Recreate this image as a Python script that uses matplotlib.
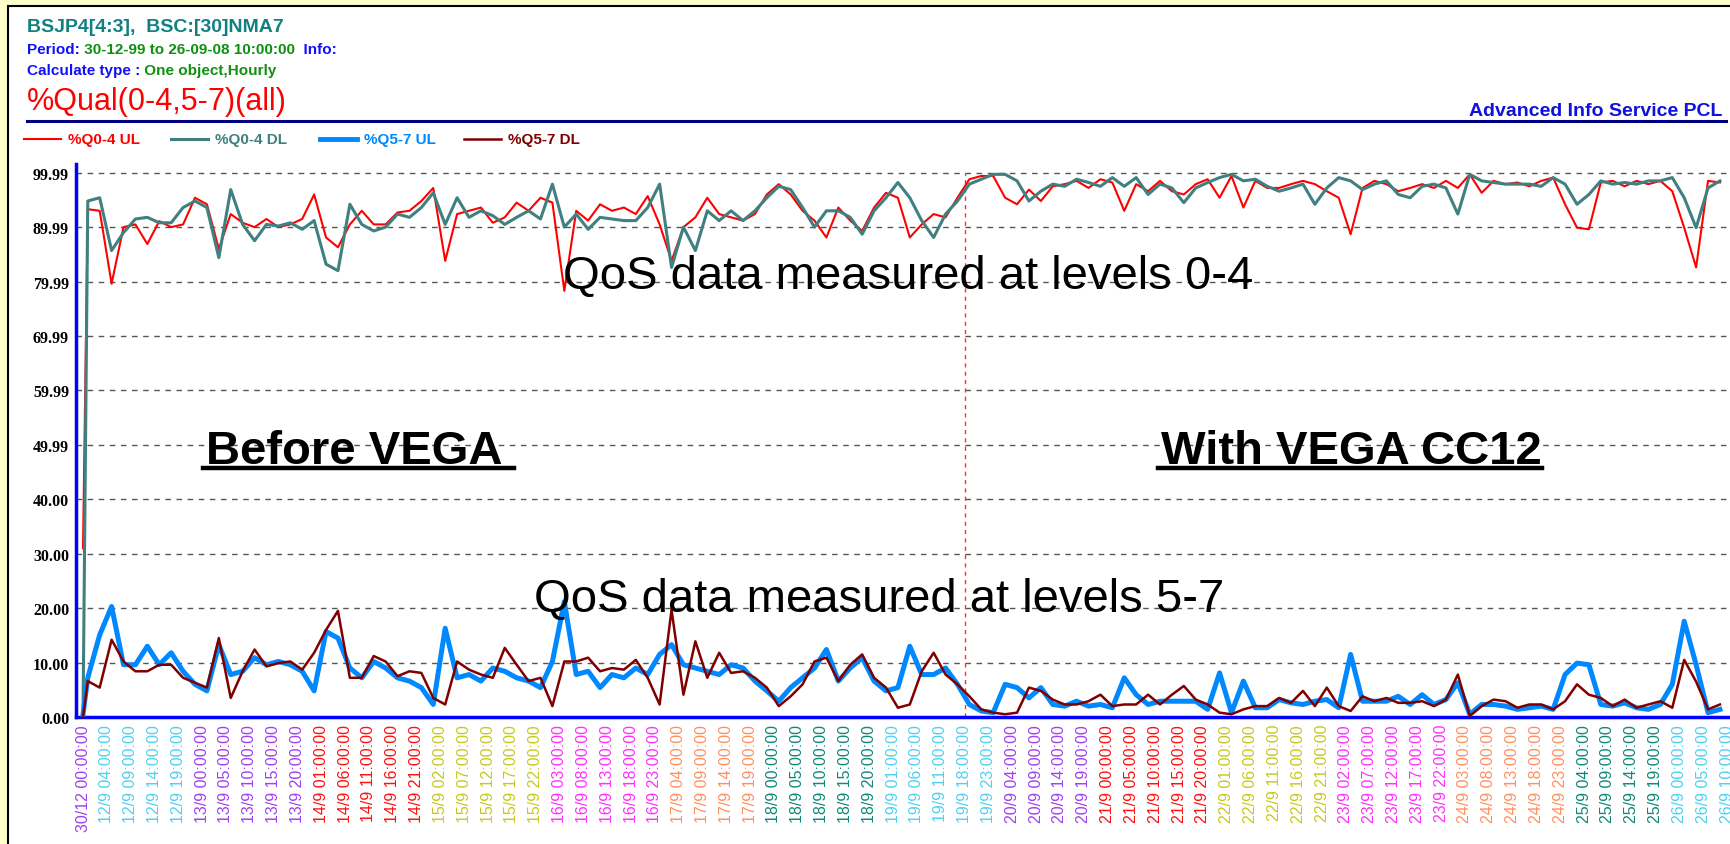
import numpy as np
import matplotlib.pyplot as plt
from matplotlib.patches import Rectangle
from matplotlib.lines import Line2D

# hourly %Qual samples, one value every 2.5 h slot after the stray 30/12 point
q04_ul = [31.0,
          93.3, 93.0, 79.6, 90.0, 90.5, 86.9, 91.1, 90.0, 90.5, 95.4,
          94.2, 86.0, 92.4, 90.8, 90.0, 91.5, 90.0, 90.5, 91.5, 96.0,
          88.1, 86.3, 90.5, 93.0, 90.5, 90.5, 92.7, 93.0, 94.8, 97.2,
          83.8, 92.4, 93.0, 93.6, 90.8, 91.8, 94.5, 93.0, 95.4, 94.5,
          78.3, 93.0, 91.2, 94.2, 93.0, 93.6, 92.4, 95.7, 90.5, 83.8,
          90.0, 91.8, 95.4, 92.4, 91.8, 91.2, 92.4, 96.0, 97.9, 96.0,
          93.0, 91.2, 88.1, 93.6, 91.2, 89.3, 93.6, 96.3, 95.4, 88.1,
          90.5, 92.4, 91.8, 95.4, 98.8, 99.4, 99.4, 95.4, 94.2, 96.9,
          94.8, 97.5, 97.9, 98.5, 97.2, 98.8, 98.2, 93.0, 97.9, 96.6,
          98.5, 96.6, 96.0, 97.9, 98.8, 95.4, 99.4, 93.6, 98.5, 97.2,
          97.2, 97.9, 98.5, 97.9, 96.6, 95.4, 88.7, 97.2, 98.5, 97.9,
          96.6, 97.2, 97.9, 97.2, 98.5, 97.2, 99.7, 96.3, 98.5, 97.9,
          98.2, 97.5, 98.5, 99.1, 94.2, 89.9, 89.6, 98.2, 98.5, 97.5,
          98.5, 97.9, 98.5, 96.6, 89.9, 82.6, 98.5, 98.2]
q04_dl = [0.0,
          94.8, 95.4, 85.7, 89.0, 91.5, 91.8, 90.8, 90.8, 93.6, 94.8,
          93.6, 84.4, 96.9, 90.5, 87.5, 90.5, 90.2, 90.8, 89.6, 91.2,
          83.2, 82.0, 94.2, 90.5, 89.3, 90.0, 92.4, 91.8, 93.6, 96.3,
          90.5, 95.4, 91.8, 93.0, 92.1, 90.5, 91.8, 93.0, 91.5, 97.9,
          90.0, 92.4, 89.6, 91.8, 91.5, 91.2, 91.2, 93.6, 97.9, 82.6,
          90.0, 85.7, 93.0, 91.2, 93.0, 91.2, 93.0, 95.4, 97.5, 96.9,
          93.6, 90.0, 93.0, 93.0, 91.8, 88.7, 93.0, 95.4, 98.2, 95.4,
          91.2, 88.1, 92.4, 94.8, 97.9, 98.8, 99.7, 99.7, 98.5, 94.8,
          96.6, 97.9, 97.5, 98.8, 98.2, 97.5, 99.1, 97.5, 99.1, 96.0,
          97.9, 97.2, 94.5, 97.2, 98.2, 99.1, 99.7, 98.5, 98.8, 97.5,
          96.6, 97.2, 97.9, 94.2, 97.2, 99.1, 98.5, 96.9, 97.9, 98.5,
          96.0, 95.4, 97.5, 97.9, 97.2, 92.4, 99.7, 98.5, 98.2, 97.9,
          97.9, 97.9, 97.5, 99.1, 97.9, 94.2, 96.0, 98.5, 97.9, 98.2,
          97.9, 98.5, 98.5, 99.1, 95.4, 89.9, 97.2, 98.5]
q57_ul = [0.5,
          7.2, 15.1, 20.3, 9.6, 9.6, 13.0, 9.6, 11.8, 8.4, 6.0,
          4.8, 13.3, 7.8, 8.4, 10.9, 9.6, 10.2, 9.6, 8.4, 4.8,
          15.7, 14.5, 9.0, 7.2, 10.2, 9.0, 7.2, 6.6, 5.4, 2.3,
          16.3, 7.2, 7.8, 6.6, 9.0, 8.4, 7.2, 6.6, 5.4, 10.2,
          21.2, 7.8, 8.4, 5.4, 7.8, 7.2, 9.0, 7.8, 11.5, 13.3,
          9.6, 9.0, 8.4, 7.8, 9.6, 9.0, 6.6, 4.8, 2.9, 5.4,
          7.2, 9.0, 12.4, 6.6, 9.0, 10.9, 6.6, 4.8, 5.4, 13.0,
          7.8, 7.8, 9.0, 6.0, 2.3, 1.1, 0.8, 6.0, 5.4, 3.5,
          5.4, 2.3, 2.0, 2.9, 2.0, 2.3, 1.7, 7.2, 4.1, 2.3,
          2.9, 2.9, 2.9, 2.9, 1.4, 8.1, 0.8, 6.6, 1.7, 1.7,
          3.2, 2.6, 2.3, 2.9, 3.2, 1.7, 11.5, 2.9, 2.9, 2.9,
          3.8, 2.3, 4.1, 2.3, 3.2, 6.3, 0.5, 2.3, 2.3, 2.0,
          1.4, 1.7, 2.0, 1.4, 7.8, 9.9, 9.6, 2.3, 2.0, 2.6,
          1.7, 1.4, 2.3, 6.0, 17.6, 9.6, 0.8, 1.4]
q57_dl = [0.0,
          6.6, 5.4, 14.2, 10.2, 8.4, 8.4, 9.6, 9.6, 7.2, 6.3,
          5.4, 14.5, 3.5, 8.4, 12.4, 9.3, 9.9, 10.2, 8.7, 11.8,
          16.0, 19.5, 7.2, 7.2, 11.2, 10.2, 7.5, 8.4, 8.1, 3.5,
          2.3, 10.2, 8.7, 7.8, 7.2, 12.7, 9.6, 6.6, 7.2, 2.0,
          10.2, 10.2, 10.9, 8.4, 9.0, 8.7, 10.5, 7.2, 2.3, 19.7,
          4.1, 13.9, 7.2, 11.8, 8.1, 8.4, 7.2, 5.4, 2.0, 3.8,
          6.0, 10.2, 10.9, 6.6, 9.6, 11.5, 7.2, 5.4, 1.7, 2.3,
          8.4, 11.8, 7.8, 6.0, 3.8, 1.4, 0.8, 0.5, 0.8, 5.4,
          4.8, 3.2, 2.3, 2.3, 2.9, 4.1, 2.0, 2.3, 2.3, 4.1,
          2.3, 4.1, 5.7, 3.2, 2.3, 0.8, 0.5, 1.4, 2.0, 2.0,
          3.5, 2.6, 4.8, 2.0, 5.4, 2.0, 1.1, 3.8, 2.9, 3.5,
          2.6, 2.6, 2.9, 2.0, 3.2, 7.8, 0.2, 2.0, 3.2, 2.9,
          1.7, 2.3, 2.3, 1.4, 2.9, 6.0, 4.1, 3.5, 2.0, 3.2,
          1.7, 2.3, 2.9, 1.7, 10.5, 6.5, 1.4, 2.3]

tick_labels = ['30/12 00:00:00',
    '12/9 04:00:00', '12/9 09:00:00', '12/9 14:00:00', '12/9 19:00:00',
    '13/9 00:00:00', '13/9 05:00:00', '13/9 10:00:00', '13/9 15:00:00', '13/9 20:00:00',
    '14/9 01:00:00', '14/9 06:00:00', '14/9 11:00:00', '14/9 16:00:00', '14/9 21:00:00',
    '15/9 02:00:00', '15/9 07:00:00', '15/9 12:00:00', '15/9 17:00:00', '15/9 22:00:00',
    '16/9 03:00:00', '16/9 08:00:00', '16/9 13:00:00', '16/9 18:00:00', '16/9 23:00:00',
    '17/9 04:00:00', '17/9 09:00:00', '17/9 14:00:00', '17/9 19:00:00',
    '18/9 00:00:00', '18/9 05:00:00', '18/9 10:00:00', '18/9 15:00:00', '18/9 20:00:00',
    '19/9 01:00:00', '19/9 06:00:00', '19/9 11:00:00', '19/9 18:00:00', '19/9 23:00:00',
    '20/9 04:00:00', '20/9 09:00:00', '20/9 14:00:00', '20/9 19:00:00',
    '21/9 00:00:00', '21/9 05:00:00', '21/9 10:00:00', '21/9 15:00:00', '21/9 20:00:00',
    '22/9 01:00:00', '22/9 06:00:00', '22/9 11:00:00', '22/9 16:00:00', '22/9 21:00:00',
    '23/9 02:00:00', '23/9 07:00:00', '23/9 12:00:00', '23/9 17:00:00', '23/9 22:00:00',
    '24/9 03:00:00', '24/9 08:00:00', '24/9 13:00:00', '24/9 18:00:00', '24/9 23:00:00',
    '25/9 04:00:00', '25/9 09:00:00', '25/9 14:00:00', '25/9 19:00:00',
    '26/9 00:00:00', '26/9 05:00:00', '26/9 10:00:00']
day_colors = {'30/12': '#a040f0', '12/9': '#50d0f0', '13/9': '#a040f0', '14/9': '#ff1010',
              '15/9': '#c8c820', '16/9': '#ff30ff', '17/9': '#ff9060', '18/9': '#108878',
              '19/9': '#50d0f0', '20/9': '#a040f0', '21/9': '#ff1010', '22/9': '#c8c820',
              '23/9': '#ff30ff', '24/9': '#ff9060', '25/9': '#108878', '26/9': '#50d0f0'}
y_ticks = [0, 9.999, 19.998, 29.997, 39.996, 49.995, 59.994, 69.993, 79.992, 89.991, 99.99]
y_labels = ['0.00', '10.00', '20.00', '30.00', '40.00', '49.99', '59.99', '69.99', '79.99', '89.99', '99.99']
vega_slot = 185   # 19/9 18:00

W, H = 1731, 845
fig = plt.figure(figsize=(W / 100, H / 100), dpi=100, facecolor='#ffffcc')


def fx(x):
    return x / W


def fy(y):
    return 1 - y / H


fig.patches.append(Rectangle((fx(8), -0.02), 1.05, fy(7) + 0.02, transform=fig.transFigure,
                             facecolor='white', edgecolor='black', lw=1.5, zorder=-10))
renderer = fig.canvas.get_renderer()


def segs(x, y, parts, size, weight='bold'):
    for txt, col in parts:
        t = fig.text(fx(x), fy(y), txt, color=col, fontsize=size, fontweight=weight,
                     family='Liberation Sans', va='baseline', ha='left')
        x += t.get_window_extent(renderer).width


segs(27, 32, [('BSJP4[4:3],  BSC:[30]NMA7', '#108080')], 14)
segs(27, 54, [('Period:', '#1010ff'), (' 30-12-99 to 26-09-08 10:00:00', '#109010'), ('  Info:', '#1010ff')], 11)
segs(27, 75, [('Calculate type :', '#1010ff'), (' One object,Hourly', '#109010')], 11)
segs(27, 110, [('%Qual(0-4,5-7)(all)', '#ff0000')], 22, weight='normal')
fig.text(fx(1722), fy(116), 'Advanced Info Service PCL', color='#1010e0', fontsize=14,
         fontweight='bold', family='Liberation Sans', ha='right', va='baseline')
fig.add_artist(Line2D([fx(27), fx(1726)], [fy(122), fy(122)], color='#000080', lw=2.2))

# legend row
legend = [('%Q0-4 UL', '#ff0000', 1.5, 24), ('%Q0-4 DL', '#408080', 2.2, 171),
          ('%Q5-7 UL', '#0088ff', 3.5, 320), ('%Q5-7 DL', '#800000', 1.8, 464)]
for name, col, lw, x0 in legend:
    fig.add_artist(Line2D([fx(x0), fx(x0 + 37)], [fy(140), fy(140)], color=col, lw=lw))
    fig.text(fx(x0 + 44), fy(140), name, color=col, fontsize=11, fontweight='bold',
             family='Liberation Sans', va='center', ha='left')

ax = fig.add_axes([fx(76), fy(718), (1729 - 76) / W, (718 - 165) / H])
ax.set_facecolor('none')
x = np.r_[0, 1 + 2.5 * np.arange(len(q04_ul) - 1)]
ax.plot(x, q04_ul, color='#ff0000', lw=1.5, zorder=3)
ax.plot(x, q04_dl, color='#408080', lw=2.2, zorder=3)
ax.plot(x, q57_ul, color='#0088ff', lw=3.6, zorder=3)
ax.plot(x, q57_dl, color='#800000', lw=1.8, zorder=4)
ax.plot([vega_slot, vega_slot], [0, 99.99], color='#ff3030', lw=1, ls=(0, (3, 3)), zorder=2)

ax.set_xlim(-1.47, 345.4)
ax.set_ylim(0, 101.6)
ax.set_yticks(y_ticks)
ax.set_yticklabels(y_labels, family='Liberation Serif', fontweight='bold', fontsize=11.5)
ax.set_xticks(np.arange(len(tick_labels)) * 5)
ax.set_xticklabels(tick_labels, rotation=90, fontsize=11.5, family='Liberation Sans')
for lab in ax.get_xticklabels():
    lab.set_color(day_colors[lab.get_text().split(' ')[0]])
ax.tick_params(length=0)
ax.tick_params(axis='y', pad=5)
ax.tick_params(axis='x', pad=5)
ax.yaxis.grid(True, color='#555555', lw=1, ls=(0, (4, 4)))
ax.set_axisbelow(True)
for s in ['top', 'right']:
    ax.spines[s].set_visible(False)
for s in ['left', 'bottom']:
    ax.spines[s].set_color('#0000ff')
    ax.spines[s].set_linewidth(2.5)

# annotations
fig.text(fx(563), fy(289), 'QoS data measured at levels 0-4', fontsize=34,
         family='Liberation Sans', va='baseline', ha='left')
fig.text(fx(534), fy(612), 'QoS data measured at levels 5-7', fontsize=34,
         family='Liberation Sans', va='baseline', ha='left')
for txt, x0 in [('Before VEGA ', 206), ('With VEGA CC12', 1161)]:
    t = fig.text(fx(x0), fy(464), txt, fontsize=34, fontweight='bold',
                 family='Liberation Sans', va='baseline', ha='left')
    bb = t.get_window_extent(renderer)
    fig.add_artist(Line2D([fx(x0 - 3), fx(x0 + bb.width)], [fy(469), fy(469)], color='black', lw=3.2))

fig.savefig('out.png', dpi=100, facecolor=fig.get_facecolor())
